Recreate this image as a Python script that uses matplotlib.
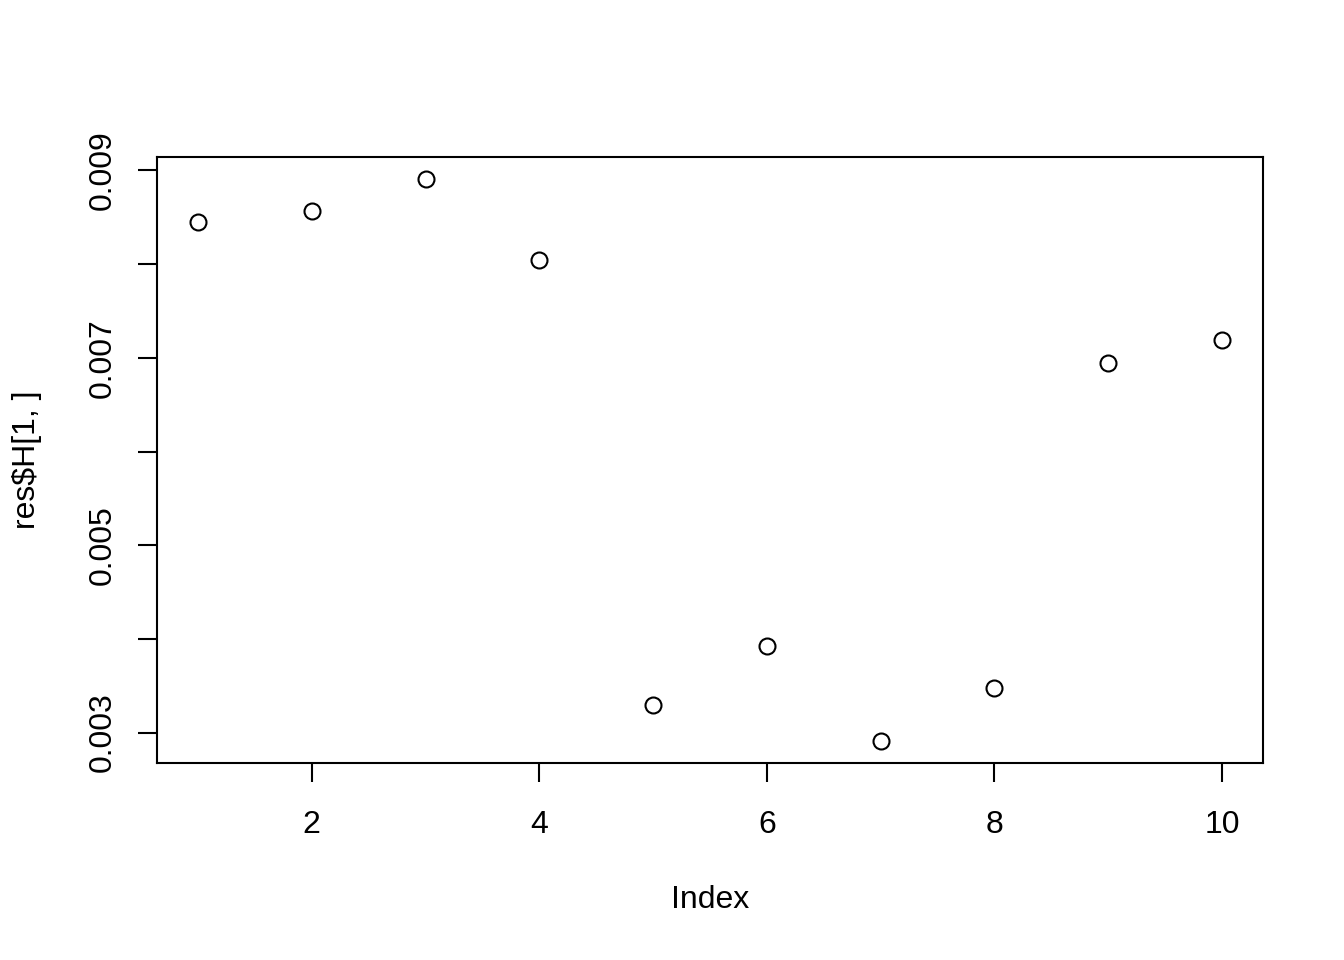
import matplotlib.pyplot as plt

# values
index = [1, 2, 3, 4, 5, 6, 7, 8, 9, 10]
h_row1 = [0.008445, 0.008562, 0.008904, 0.008039, 0.003299,
          0.003929, 0.002915, 0.003480, 0.006950, 0.007185]
y_ticks = [0.003, 0.004, 0.005, 0.006, 0.007, 0.008, 0.009]
y_tick_labels = ['0.003', '', '0.005', '', '0.007', '', '0.009']
x_ticks = [2, 4, 6, 8, 10]

plt.rcParams['font.family'] = ['Liberation Sans', 'DejaVu Sans']

fig = plt.figure(figsize=(13.44, 9.6), dpi=100)
ax = fig.add_axes([157 / 1344, 1 - 763 / 960, (1263 - 157) / 1344, (763 - 157) / 960])

ax.plot(index, h_row1, 'o', mfc='none', mec='black', ms=11.5, mew=1.5)

# R-style 4% padding
xr = max(index) - min(index)
ax.set_xlim(min(index) - 0.04 * xr, max(index) + 0.04 * xr)
yr = max(h_row1) - min(h_row1)
ax.set_ylim(min(h_row1) - 0.04 * yr, max(h_row1) + 0.04 * yr)

ax.set_xticks(x_ticks)
ax.set_xticklabels([str(v) for v in x_ticks])
ax.set_yticks(y_ticks)
ax.set_yticklabels(y_tick_labels, rotation=90, va='center')

for s in ax.spines.values():
    s.set_linewidth(1.5)
ax.tick_params(direction='out', length=14, width=1.5, labelsize=23)
ax.tick_params(axis='x', pad=20)
ax.tick_params(axis='y', pad=14)

ax.set_xlabel('Index', fontsize=23)
ax.set_ylabel('res$H[1, ]', fontsize=23)
ax.xaxis.set_label_coords(0.5, -(900 - 763) / 606, transform=ax.transAxes)
ax.yaxis.set_label_coords(-(157 - 27) / 1106, 0.5, transform=ax.transAxes)
ax.xaxis.label.set_va('center')
ax.yaxis.label.set_va('center')

fig.savefig('out.png', dpi=100)
